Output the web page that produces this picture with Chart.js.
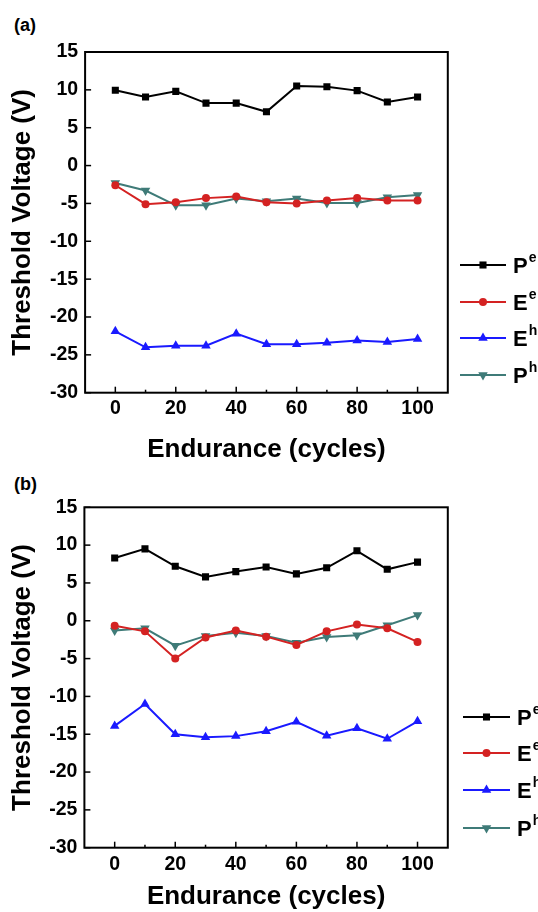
<!DOCTYPE html>
<html>
<head>
<meta charset="utf-8">
<script src="https://cdn.jsdelivr.net/npm/chart.js@4.4.1/dist/chart.umd.min.js"></script>
<style>
body{margin:0;background:#fff;width:538px;height:912px;position:relative;overflow:hidden;font-family:'Liberation Sans',Arial,sans-serif}
canvas{position:absolute;left:0}
.tag{position:absolute;left:14px;font-weight:bold;font-size:18px;line-height:20px}
</style>
</head>
<body>
<div class="tag" style="top:15px">(a)</div>
<canvas id="chartA" width="538" height="470" style="top:0"></canvas>
<div class="tag" style="top:474px">(b)</div>
<canvas id="chartB" width="538" height="452" style="top:460px"></canvas>
<script>
const cycles = [0,10,20,30,40,50,60,70,80,90,100];
// panel (a)
const peA = [9.95,9.05,9.8,8.25,8.25,7.1,10.5,10.4,9.9,8.4,9.05];
const eeA = [-2.6,-5.1,-4.85,-4.3,-4.1,-4.85,-5.0,-4.6,-4.3,-4.6,-4.6];
const ehA = [-21.9,-24.0,-23.8,-23.8,-22.2,-23.6,-23.6,-23.4,-23.1,-23.3,-22.9];
const phA = [-2.3,-3.3,-5.25,-5.25,-4.35,-4.7,-4.35,-4.95,-4.95,-4.2,-3.9];
// panel (b)
const peB = [8.3,9.5,7.2,5.8,6.5,7.1,6.2,7.0,9.25,6.8,7.75];
const eeB = [-0.65,-1.4,-5.0,-2.2,-1.3,-2.1,-3.2,-1.4,-0.5,-1.0,-2.8];
const ehB = [-13.9,-11.0,-15.0,-15.4,-15.25,-14.6,-13.35,-15.2,-14.2,-15.6,-13.3];
const phB = [-1.3,-1.0,-3.3,-2.0,-1.6,-2.0,-2.9,-2.15,-1.9,-0.6,0.75];
const letters = ['P','E','E','P'];
const sups = ['e','e','h','h'];

const FONT = "'Liberation Sans', Arial, sans-serif";
const colors = ['#000000','#d42222','#1a1aff','#3f7b78'];
const styles = [
  {pointStyle:'rect', pointRadius:5, rotation:0},
  {pointStyle:'circle', pointRadius:4, rotation:0},
  {pointStyle:'triangle', pointRadius:5.5, rotation:0},
  {pointStyle:'triangle', pointRadius:5.5, rotation:180}
];

function makeSets(series){
  return series.map((vals,i)=>({
    label: letters[i]+sups[i],
    data: cycles.map((c,k)=>({x:c, y:vals[k]})),
    borderColor: colors[i],
    backgroundColor: colors[i],
    borderWidth: 2,
    pointStyle: styles[i].pointStyle,
    pointRadius: styles[i].pointRadius,
    pointRotation: styles[i].rotation,
    pointBorderWidth: 0,
    pointHoverRadius: styles[i].pointRadius
  }));
}

// frame + inward ticks, and the legend on the right
const framePlugin = {
  id: 'frame',
  beforeDatasetsDraw(chart){
    const {ctx, chartArea:a, scales} = chart;
    ctx.save();
    ctx.strokeStyle = '#000';
    ctx.lineWidth = 1.5;
    scales.x.ticks.forEach(t=>{
      if(t.value < 0 || t.value > 100) return;
      const px = scales.x.getPixelForValue(t.value);
      const len = t.value % 20 === 0 ? 6 : 3;
      ctx.beginPath(); ctx.moveTo(px, a.bottom); ctx.lineTo(px, a.bottom-len); ctx.stroke();
    });
    scales.y.ticks.forEach(t=>{
      const py = scales.y.getPixelForValue(t.value);
      ctx.beginPath(); ctx.moveTo(a.left, py); ctx.lineTo(a.left+6, py); ctx.stroke();
    });
    ctx.lineWidth = 2;
    ctx.strokeRect(a.left, a.top, a.right-a.left, a.bottom-a.top);
    ctx.restore();
  },
  afterDraw(chart, args, opts){
    const ctx = chart.ctx;
    ctx.save();
    chart.data.datasets.forEach((ds,i)=>{
      const y = opts.ys[i];
      ctx.strokeStyle = ds.borderColor;
      ctx.lineWidth = 2;
      ctx.beginPath(); ctx.moveTo(opts.x0, y); ctx.lineTo(opts.x1, y); ctx.stroke();
      ctx.fillStyle = ds.backgroundColor;
      Chart.helpers.drawPoint(ctx, {pointStyle: ds.pointStyle, radius: ds.pointRadius, rotation: ds.pointRotation, borderWidth: 0}, (opts.x0+opts.x1)/2, y);
      ctx.fillStyle = '#000';
      ctx.textBaseline = 'alphabetic';
      ctx.font = 'bold 22px ' + FONT;
      ctx.fillText(letters[i], opts.tx, y+8);
      const w = ctx.measureText(letters[i]).width;
      ctx.font = 'bold 14px ' + FONT;
      ctx.fillText(sups[i], opts.tx+w+1, y-3);
    });
    ctx.restore();
  }
};

function makeChart(id, series, geo){
  return new Chart(document.getElementById(id), {
    type: 'line',
    data: { datasets: makeSets(series) },
    plugins: [framePlugin],
    options: {
      responsive: false,
      animation: false,
      layout: { padding: { left: 0, top: geo.top, right: geo.right, bottom: geo.bottom } },
      plugins: {
        legend: { display: false },
        tooltip: { enabled: false },
        frame: geo.legend
      },
      scales: {
        x: {
          type: 'linear', min: -10, max: 110,
          grid: { display: false, drawTicks: false },
          border: { display: false },
          afterFit(s){ s.height = geo.xHeight; },
          ticks: {
            stepSize: 10, padding: geo.xPad, color: '#000', autoSkip: false, maxRotation: 0,
            font: { family: FONT, size: 19.5, weight: 'bold' },
            callback: v => (v >= 0 && v <= 100 && v % 20 === 0) ? String(v) : ''
          },
          title: { display: true, text: 'Endurance (cycles)', color: '#000', padding: 0,
                   font: { family: FONT, size: 26, weight: 'bold' } }
        },
        y: {
          min: -30, max: 15,
          grid: { display: false, drawTicks: false },
          border: { display: false },
          afterFit(s){ s.width = geo.yWidth; },
          ticks: {
            stepSize: 5, padding: 7, color: '#000',
            font: { family: FONT, size: 19.5, weight: 'bold' }
          },
          title: { display: true, text: 'Threshold Voltage (V)', color: '#000', padding: { top: 7, bottom: 0 },
                   font: { family: FONT, size: 26, weight: 'bold' } }
        }
      }
    }
  });
}

makeChart('chartA', [peA, eeA, ehA, phA], {
  top: 52, right: 90.2, bottom: 4.4, xHeight: 72.9, xPad: 4.7, yWidth: 85.1,
  legend: { x0: 460, x1: 506, tx: 513, ys: [265, 302, 338, 375] }
});
makeChart('chartB', [peB, eeB, ehB, phB], {
  top: 47.3, right: 90.2, bottom: 0, xHeight: 64.3, xPad: 5.7, yWidth: 84.4,
  legend: { x0: 463, x1: 510, tx: 517, ys: [257, 293, 330, 368] }
});
</script>
</body>
</html>
